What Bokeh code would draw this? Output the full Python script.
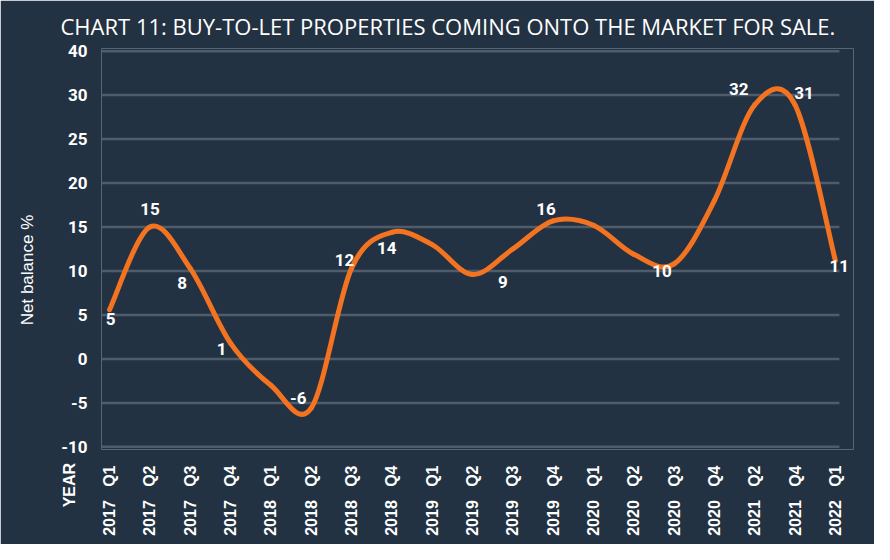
import numpy as np
from bokeh.plotting import figure
from bokeh.models import ColumnDataSource, FixedTicker, Range1d, Label
from bokeh.core.properties import value
from bokeh.embed import file_html
from bokeh.resources import INLINE

# ---------------- data ----------------
years = ["2017", "2017", "2017", "2017", "2018", "2018", "2018", "2018",
         "2019", "2019", "2019", "2019", "2020", "2020", "2020", "2020",
         "2021", "2021", "2022"]
quarters = ["Q1", "Q2", "Q3", "Q4", "Q1", "Q2", "Q3", "Q4",
            "Q1", "Q2", "Q3", "Q4", "Q1", "Q2", "Q3", "Q4",
            "Q2", "Q4", "Q1"]
# net balance % at each quarter
net_balance = [5.6, 15.0, 10.3, 1.8, -3.0, -5.6, 10.3, 14.4, 13.0, 9.6,
               12.5, 15.7, 15.2, 11.9, 10.8, 18.0, 28.9, 28.9, 11.2]
# data labels printed on the chart and the quarter each belongs to
label_values = [5, 15, 8, 1, -6, 12, 14, 9, 16, 10, 32, 31, 11]
label_quarter = [0, 1, 2, 3, 5, 6, 7, 10, 11, 14, 16, 17, 18]
y_ticks = [-10, -5, 0, 5, 10, 15, 20, 25, 30, 35]
y_tick_labels = ["-10", "-5", "0", "5", "10", "15", "20", "25", "30", "40"]

title = "CHART 11: BUY-TO-LET PROPERTIES COMING ONTO THE MARKET FOR SALE."
y_title = "Net balance %"
x_title = "YEAR"

# ---------------- style ----------------
BG = "#233242"
GRID = "#4f5c6b"
ORANGE = "#f47321"
WHITE = "#ffffff"
X_START, X_GRID_END, X_END = -0.2, 18.1, 18.45

p = figure(width=874, height=544, output_backend="svg", toolbar_location=None,
           x_range=Range1d(X_START, X_END), y_range=Range1d(-10.3, 35.3),
           min_border_left=101, min_border_right=21,
           min_border_top=48, min_border_bottom=95)
p.background_fill_color = BG
p.border_fill_color = BG
p.outline_line_color = None

p.title.text = title
p.title.text_color = WHITE
p.title.text_font = "Open Sans"
p.title.text_font_style = "normal"
p.title.text_font_size = "22px"
p.title.align = "left"
p.title.offset = -41
p.title.standoff = 16

# grid: horizontal lines at the y ticks, ending short of the frame's right edge
p.xgrid.grid_line_color = None
p.ygrid.grid_line_color = None
p.segment(x0=[X_START] * len(y_ticks), x1=[X_GRID_END] * len(y_ticks),
          y0=y_ticks, y1=y_ticks, line_color=GRID, line_width=2.5)

# y axis
p.yaxis.ticker = FixedTicker(ticks=y_ticks)
p.yaxis.major_label_overrides = dict(zip(y_ticks, y_tick_labels))
p.yaxis.axis_line_color = None
p.yaxis.major_tick_line_color = None
p.yaxis.minor_tick_line_color = None
p.yaxis.major_tick_out = 0
p.yaxis.major_label_standoff = 14
p.yaxis.major_label_text_color = WHITE
p.yaxis.major_label_text_font = "Roboto"
p.yaxis.major_label_text_font_style = "bold"
p.yaxis.major_label_text_font_size = "17px"

# x axis
idx = list(range(len(years)))
p.xaxis.ticker = FixedTicker(ticks=idx)
p.xaxis.major_label_overrides = {i: years[i] + "\u00a0\u00a0\u00a0" + quarters[i] for i in idx}
p.xaxis.major_label_orientation = np.pi / 2
p.xaxis.axis_line_color = None
p.xaxis.major_tick_line_color = None
p.xaxis.minor_tick_line_color = None
p.xaxis.major_tick_out = 0
p.xaxis.major_label_standoff = 16
p.xaxis.major_label_text_color = WHITE
XFONT = "Liberation Sans"
p.xaxis.major_label_text_font = XFONT
p.xaxis.major_label_text_font_style = "bold"
p.xaxis.major_label_text_font_size = "16px"

# smoothed line (Catmull-Rom -> cubic Bezier segments)
xs = np.array(idx, dtype=float)
ys = np.array(net_balance, dtype=float)
xe = np.concatenate([[xs[0]], xs, [xs[-1]]])
ye = np.concatenate([[ys[0]], ys, [ys[-1]]])
n = len(xs)
seg = dict(x0=[], y0=[], x1=[], y1=[], cx0=[], cy0=[], cx1=[], cy1=[])
for i in range(n - 1):
    k = i + 1
    seg["x0"].append(xe[k]); seg["y0"].append(ye[k])
    seg["x1"].append(xe[k + 1]); seg["y1"].append(ye[k + 1])
    seg["cx0"].append(xe[k] + (xe[k + 1] - xe[k - 1]) / 6)
    seg["cy0"].append(ye[k] + (ye[k + 1] - ye[k - 1]) / 6)
    seg["cx1"].append(xe[k + 1] - (xe[k + 2] - xe[k]) / 6)
    seg["cy1"].append(ye[k + 1] - (ye[k + 2] - ye[k]) / 6)
p.bezier(x0="x0", y0="y0", x1="x1", y1="y1", cx0="cx0", cy0="cy0",
         cx1="cx1", cy1="cy1", source=ColumnDataSource(seg),
         line_color=ORANGE, line_width=5, line_cap="round")

# data labels
dx = [1, 0, -8, -9, -13, -7, -5, -10, -7, -12, -16, 9, 4]
dy = [4, -18, -6, -1, -14, 7, 12, 2, -9, 0, 11, 7, 4]
lab = ColumnDataSource(dict(x=label_quarter, y=label_values,
                            t=[str(v) for v in label_values], dx=dx, dy=dy))
p.text(x="x", y="y", text="t", x_offset="dx", y_offset="dy", source=lab,
       text_color=WHITE, text_font=value("Roboto"), text_font_style="bold",
       text_font_size="17px", text_align="center", text_baseline="middle")

# axis titles (placed in the left side panel so they are not clipped)
p.add_layout(Label(x=-1, y=y_ticks[0], y_offset=-16, text=x_title, angle=np.pi / 2,
                   text_align="right", text_baseline="middle", text_color=WHITE,
                   text_font=XFONT, text_font_style="bold", text_font_size="16px"),
             "left")
p.add_layout(Label(x=X_START, x_offset=-74, y=12.5, y_offset=-21, text=y_title,
                   angle=np.pi / 2, text_align="center", text_baseline="middle",
                   text_color=WHITE, text_font="Liberation Sans",
                   text_font_size="17px"),
             "left")

open("out.html", "w").write(file_html(p, INLINE))
